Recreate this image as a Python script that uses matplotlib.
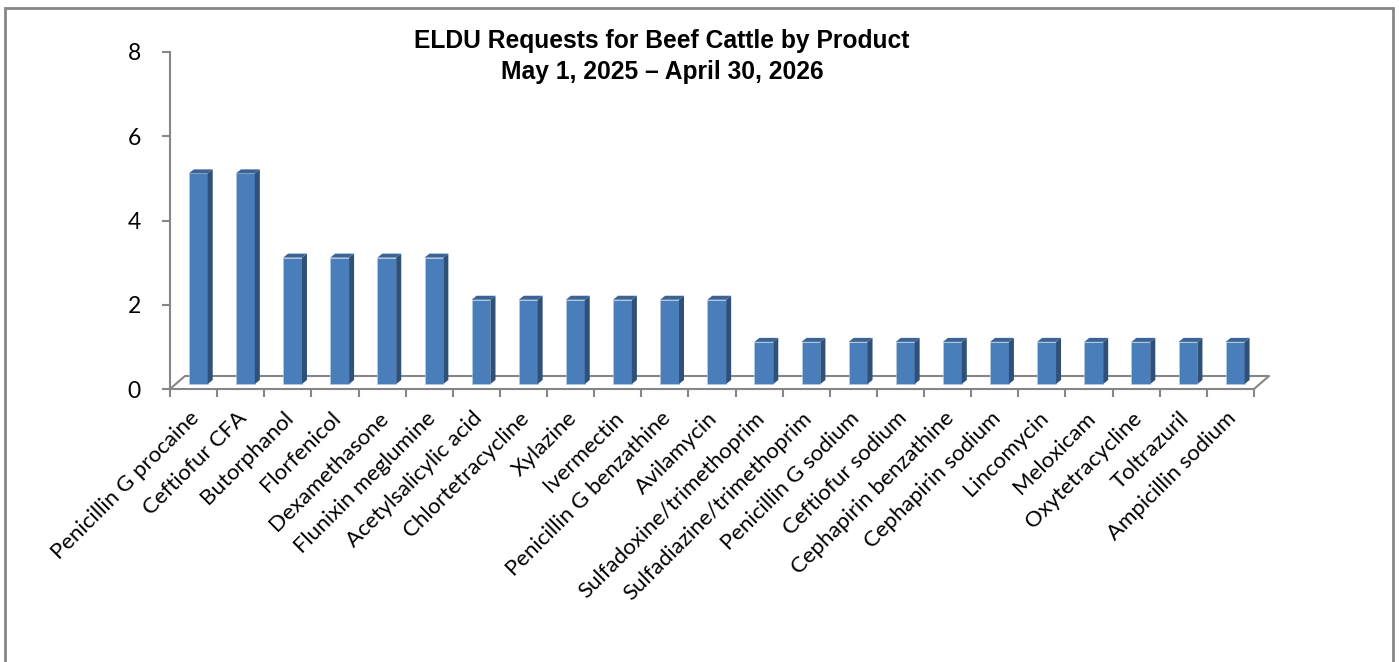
import matplotlib
matplotlib.use("Agg")
import matplotlib.pyplot as plt
from matplotlib.patches import Polygon, Rectangle

products = [
    "Penicillin G procaine", "Ceftiofur CFA", "Butorphanol", "Florfenicol",
    "Dexamethasone", "Flunixin meglumine", "Acetylsalicylic acid",
    "Chlortetracycline", "Xylazine", "Ivermectin", "Penicillin G benzathine",
    "Avilamycin", "Sulfadoxine/trimethoprim", "Sulfadiazine/trimethoprim",
    "Penicillin G sodium", "Ceftiofur sodium", "Cephapirin benzathine",
    "Cephapirin sodium", "Lincomycin", "Meloxicam", "Oxytetracycline",
    "Toltrazuril", "Ampicillin sodium",
]
requests = [5, 5, 3, 3, 3, 3, 2, 2, 2, 2, 2, 2, 1, 1, 1, 1, 1, 1, 1, 1, 1, 1, 1]
y_ticks = [0, 2, 4, 6, 8]

front_col = "#4A7EBB"
side_col = "#2F5079"
top_col = "#3B6394"
axis_col = "#868686"

W, H = 1399, 662
fig = plt.figure(figsize=(W / 100, H / 100), dpi=100)

# chart frame
fig.patches.append(Rectangle((5 / W, -0.05), 1388 / W, 1.05 - 8 / H,
                             transform=fig.transFigure, fill=False,
                             edgecolor=axis_col, linewidth=2))

ax_l, ax_r, ax_b, ax_t = 170, 1254, 389, 52
ax = fig.add_axes([ax_l / W, 1 - ax_b / H, (ax_r - ax_l) / W, (ax_b - ax_t) / H])
n = len(products)
ax.set_xlim(-0.5, n - 0.5)
ax.set_ylim(0, 8)

# pixel -> data scale
px_x = n / (ax_r - ax_l)
px_y = 8 / (ax_b - ax_t)

# floor (3d base)
fdx, fdy = 15 * px_x, 13 * px_y
ax.plot([-0.5, -0.5 + fdx, n - 0.5 + fdx, n - 0.5],
        [0, fdy, fdy, 0], color=axis_col, lw=1.5, clip_on=False, zorder=1)

# bars: front face + side + top
w = 0.40
off = 0.1
base = 5 * px_y
ddx, ddy = 5 * px_x, 4 * px_y
for i, v in enumerate(requests):
    x0 = i + off - w / 2
    x1 = x0 + w
    ax.bar(i + off, v, width=w, bottom=base, color=front_col,
           edgecolor="#B9CDE5", linewidth=0.4, zorder=3)
    top = base + v
    ax.add_patch(Polygon([(x1, base), (x1 + ddx, base + ddy),
                          (x1 + ddx, top + ddy), (x1, top)],
                         closed=True, facecolor=side_col, edgecolor="none", zorder=3))
    ax.add_patch(Polygon([(x0, top), (x0 + ddx, top + ddy),
                          (x1 + ddx, top + ddy), (x1, top)],
                         closed=True, facecolor=top_col, edgecolor="none", zorder=3))

for s in ["top", "right"]:
    ax.spines[s].set_visible(False)
for s in ["left", "bottom"]:
    ax.spines[s].set_color(axis_col)
    ax.spines[s].set_linewidth(1.5)

ax.set_yticks(y_ticks)
ax.set_yticklabels([str(t) for t in y_ticks], fontfamily="Lato", fontsize=16.5)
ax.tick_params(axis="y", length=6, width=1.5, color=axis_col, pad=15)

# tick marks at category boundaries, labels at centres
ax.set_xticks([i - 0.5 for i in range(n + 1)])
ax.set_xticklabels([])
ax.tick_params(axis="x", length=6, width=1.5, color=axis_col)
for i, name in enumerate(products):
    ax.text(i - 0.09, -0.45, name, rotation=45, ha="right", va="top",
            rotation_mode="anchor", fontfamily="Lato", fontsize=16,
            transform=ax.transData, clip_on=False)

fig.text(662 / W, 1 - 29 / H, "ELDU Requests for Beef Cattle by Product\nMay 1, 2025 \u2013 April 30, 2026",
         ha="center", va="top", fontfamily="Liberation Sans", fontweight="bold",
         fontsize=17.7, linespacing=1.35)

fig.savefig("out.png", dpi=100)
